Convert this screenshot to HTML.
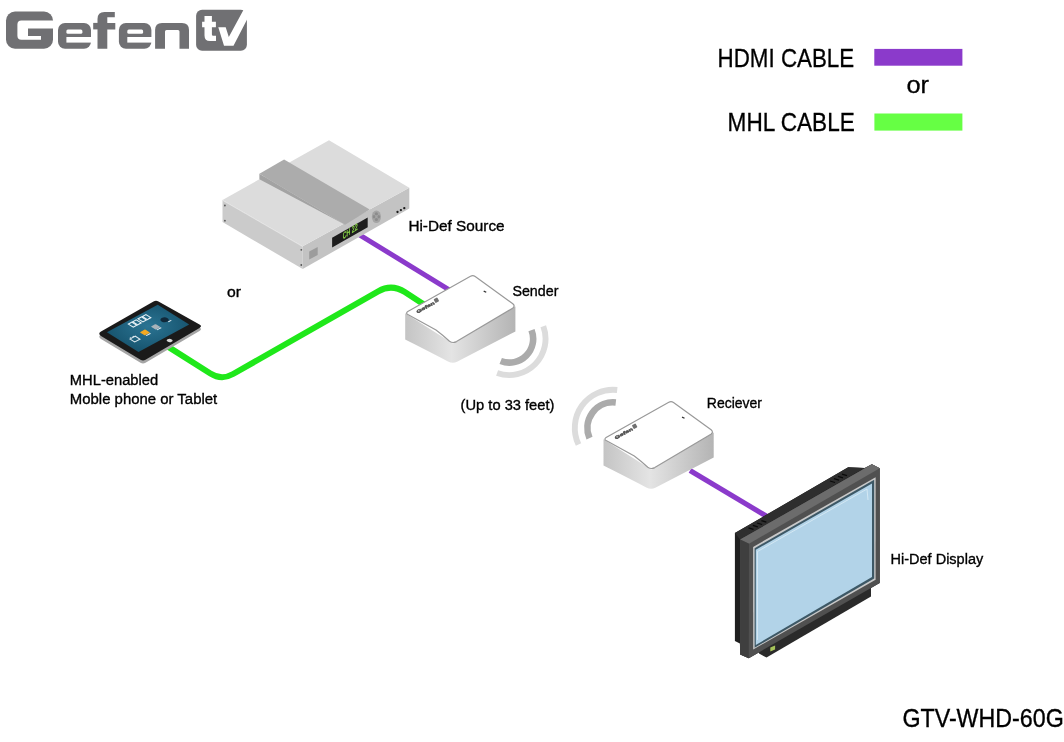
<!DOCTYPE html>
<html><head><meta charset="utf-8">
<style>
html,body{margin:0;padding:0;background:#fff;width:1064px;height:742px;overflow:hidden}
svg{display:block;will-change:transform}
text{font-family:"Liberation Sans",sans-serif;fill:#000}
.lb text{stroke:#000;stroke-width:0.35px}
.lg{stroke:#000;stroke-width:0.3px}
</style></head><body>
<svg width="1064" height="742" viewBox="0 0 1064 742">
<defs>
<linearGradient id="sideg" x1="0" y1="0" x2="1" y2="0">
<stop offset="0" stop-color="#c4c4c4"/><stop offset="0.42" stop-color="#e4e4e4"/><stop offset="1" stop-color="#b4b4b4"/>
</linearGradient>
<radialGradient id="tabscr" cx="0.5" cy="0.45" r="0.6">
<stop offset="0" stop-color="#2b7493"/><stop offset="1" stop-color="#14506a"/>
</radialGradient>
</defs>
<rect width="1064" height="742" fill="#fff"/>

<!-- LOGO -->
<g id="logo" fill="#707073">
<!-- G -->
<rect x="6" y="11.6" width="47" height="37.1" rx="9"/>
<path d="M17.4 24.5 Q17.4 20.5 21.4 20.5 H54 V28.5 H28 V36 H41 V39.8 H21.4 Q17.4 39.8 17.4 35.8 Z" fill="#fff"/>
<!-- e -->
<rect x="58" y="23" width="33" height="25.7" rx="7"/>
<rect x="66.4" y="29.6" width="16" height="4.1" rx="1.5" fill="#fff"/>
<rect x="66.4" y="37" width="26" height="5.6" fill="#fff"/>
<!-- f -->
<path d="M97.5 48.7 V19 Q97.5 12 104.5 12 H114.8 V17.2 H107.3 V22.9 H115.3 V29.4 H107.3 V48.7 Z"/>
<rect x="93.2" y="22.9" width="5" height="6.5"/>
<!-- e2 -->
<rect x="118.9" y="23" width="32.5" height="25.7" rx="7"/>
<rect x="127.3" y="29.6" width="15.8" height="4.1" rx="1.5" fill="#fff"/>
<rect x="127.3" y="37" width="25" height="5.6" fill="#fff"/>
<!-- n -->
<path d="M155.1 48.7 V30 Q155.1 22.9 162 22.9 H182 Q189 22.9 189 30 V48.7 H179.5 V31.5 Q179.5 29.9 178 29.9 H166.5 Q165 29.9 165 31.5 V48.7 Z"/>
<!-- tv box -->
<rect x="196.1" y="9.7" width="50.8" height="41.1" rx="6"/>
<g fill="#fff">
<path d="M204.5 16.1 H211.9 V21.8 H215.9 V27.2 H211.9 V34.5 Q211.9 35.8 213.2 35.8 H216 V41 H210 Q204.5 41 204.5 35.5 V27.2 H202.1 V21.8 H204.5 Z"/>
<path d="M218.3 27.2 H225.7 L228.8 37 L244.5 8 H253 L233.5 45.7 H224 Z"/>
</g>
</g>

<!-- LEGEND -->
<text class="lg" x="717.6" y="67.1" font-size="25.4" textLength="136.6" lengthAdjust="spacingAndGlyphs">HDMI CABLE</text>
<rect x="874.3" y="48.9" width="88.1" height="16.8" fill="#8b3acb"/>
<text class="lg" x="906.4" y="93.2" font-size="23.5" textLength="22.6" lengthAdjust="spacingAndGlyphs">or</text>
<text class="lg" x="727.6" y="131.1" font-size="25" textLength="127.2" lengthAdjust="spacingAndGlyphs">MHL CABLE</text>
<rect x="874.4" y="113.5" width="88" height="17.1" fill="#66ff44"/>

<!-- CABLES -->
<path d="M160 341.6 L210.4 373.5 Q221.6 380.6 233.1 374 L378.2 291.3 Q391.7 283.6 404.8 292.1 L432 309.8" fill="none" stroke="#1fe81a" stroke-width="6" stroke-linejoin="round"/>
<line x1="355" y1="232.1" x2="450" y2="290.3" stroke="#8b3acb" stroke-width="5"/>
<line x1="690" y1="470.5" x2="770" y2="518.3" stroke="#8b3acb" stroke-width="5.1"/>

<!-- SOURCE BOX -->
<g id="source">
<polygon points="222.5,200 302.7,246.3 302.7,269 222.5,222" fill="#cbcbcb"/>
<polygon points="302.7,246.3 409.3,187.8 409.3,208.5 302.7,269" fill="#c3c3c3"/>
<polygon points="222.5,200 329,140.3 409.3,187.8 302.7,246.3" fill="#dcdcdc"/>
<line x1="222.5" y1="200.3" x2="302.7" y2="246.6" stroke="#e6e6e6" stroke-width="0.8"/>
<polygon points="259.4,173.8 284.1,159.5 369.7,209.4 345.1,224.8" fill="#acacac"/>
<polygon points="259.4,173.8 345.1,224.8 259.4,179.3" fill="#a3a3a3"/>
<polygon points="332.1,237.7 367.7,217.5 367.7,227.2 332.1,247.4" fill="#1d1d1d"/>
<text x="0" y="0" font-size="9" style="fill:#8fe04a;stroke:#8fe04a;stroke-width:0.3px" transform="matrix(0.85,-0.56,0,1,342.8,239.2)" textLength="17.5" lengthAdjust="spacingAndGlyphs">CH 22</text>
<ellipse cx="376.4" cy="216.7" rx="4.6" ry="6.3" fill="#a4a4a4"/>
<g fill="#8c8c8c"><ellipse cx="376.4" cy="213.8" rx="1.6" ry="1.5"/><ellipse cx="376.4" cy="219.6" rx="1.6" ry="1.5"/><ellipse cx="374" cy="216.7" rx="1.3" ry="1.8"/><ellipse cx="378.8" cy="216.7" rx="1.3" ry="1.8"/></g>
<circle cx="397.5" cy="212" r="1.15" fill="#1a1a1a"/><circle cx="400.9" cy="210.1" r="1.15" fill="#1a1a1a"/><circle cx="404.3" cy="208.2" r="1.15" fill="#1a1a1a"/>
<polygon points="309.2,251.5 317.7,247 317.7,255 309.2,259.5" fill="#9c9c9c"/>
<circle cx="224.9" cy="205.5" r="0.9" fill="#555"/><circle cx="224.9" cy="220.7" r="0.9" fill="#555"/>
<circle cx="301.3" cy="249.8" r="0.9" fill="#555"/><circle cx="301.3" cy="265" r="0.9" fill="#555"/>
</g>

<!-- TABLET -->
<g id="tablet">
<path d="M101 334.6 L153.5 304.5 Q156 303 158.5 304.5 L199.5 327.5 Q202.5 329.2 199.5 331 L145.5 362.8 Q143 364.3 140.5 362.8 L101 339 Q97.5 336.8 101 334.6 Z" fill="#a5a5a5"/>
<path d="M101 331.6 L153.5 301.5 Q156 300 158.5 301.5 L199.5 324.5 Q202.5 326.2 199.5 328 L145.5 359.8 Q143 361.3 140.5 359.8 L101 336 Q97.5 333.8 101 331.6 Z" fill="#1a1a1a"/>
<polygon points="106.9,332.3 157.7,304.7 189.2,324.4 138.5,352" fill="url(#tabscr)"/>
<g transform="matrix(0.879,-0.478,0.848,0.530,106.9,332.3)">
<circle cx="30.2" cy="42.7" r="2.3" fill="#d8d8d8"/>
<g fill="none" stroke="#e6f0f5" stroke-width="1.2">
<rect x="21" y="3.5" width="4" height="5.8"/><rect x="26" y="3.5" width="4" height="5.8"/>
<rect x="32" y="3.5" width="4" height="5.8"/><rect x="37" y="3.5" width="4" height="5.8"/>
</g>
<circle cx="47.3" cy="19" r="3.4" fill="#11293a"/>
<rect x="47.5" y="22.6" width="3.4" height="1.1" fill="#e0e8ee"/>
<rect x="32.2" y="18.4" width="5.6" height="5.8" rx="0.8" fill="#a9b3ba"/>
<rect x="32.6" y="24.6" width="5" height="1" fill="#e6eef2"/>
<rect x="20" y="18" width="6" height="6" rx="0.8" fill="#f3a922"/>
<rect x="20.5" y="24.5" width="5" height="1" fill="#f0f0f0"/>
<path d="M7.5 19.5 h6 v5.5 h-6 z M9 18 v1.5 M12 18 v1.5" fill="none" stroke="#dce8ee" stroke-width="1.2"/>
</g>
</g>

<!-- SENDER -->
<g id="sender">
<path d="M405.2 313.2 L405.2 339.6 Q420 347 448 361.5 Q452.7 364 457 361.8 L515.4 331.4 L515.4 306.4 L452.9 343.4 Z" fill="url(#sideg)"/>
<path d="M407.8 311.6 L470.5 276.2 Q472.9 275 475.2 276.4 L512.8 303.8 Q515.6 306.2 512.6 308.2 L456.5 341.6 Q452.8 343.6 449.5 341.2 Q442 334.5 436 330 L408.3 314.8 Q405.2 313.4 407.8 311.6 Z" fill="#fff" stroke="#999" stroke-width="1.2"/>
<rect x="483.6" y="291" width="2.8" height="1.3" fill="#333" transform="rotate(25 485 291.6)"/>
<text x="0" y="0" font-size="5.6" font-weight="bold" style="fill:#505050;stroke:#505050;stroke-width:0.5px" transform="translate(417.5,313.5) rotate(-29) scale(1,0.8)" textLength="20" lengthAdjust="spacingAndGlyphs">Gefen</text>
<rect x="20.8" y="-4.6" width="4.2" height="4.4" rx="0.8" fill="#707070" transform="translate(417.5,313.5) rotate(-29)"/>
</g>
<path d="M531.5 330.1 A23.8 23.8 0 0 1 500.7 361.0" fill="none" stroke="#ababab" stroke-width="6.6"/>
<path d="M543.3 326.2 A36.3 36.3 0 0 1 497.1 373.0" fill="none" stroke="#dcdcdc" stroke-width="5.9"/>

<!-- RECEIVER -->
<g id="receiver" transform="translate(198.3,126)">
<path d="M405.2 313.2 L405.2 339.6 Q420 347 448 361.5 Q452.7 364 457 361.8 L515.4 331.4 L515.4 306.4 L452.9 343.4 Z" fill="url(#sideg)"/>
<path d="M407.8 311.6 L470.5 276.2 Q472.9 275 475.2 276.4 L512.8 303.8 Q515.6 306.2 512.6 308.2 L456.5 341.6 Q452.8 343.6 449.5 341.2 Q442 334.5 436 330 L408.3 314.8 Q405.2 313.4 407.8 311.6 Z" fill="#fff" stroke="#999" stroke-width="1.2"/>
<rect x="483.6" y="291" width="2.8" height="1.3" fill="#333" transform="rotate(25 485 291.6)"/>
<text x="0" y="0" font-size="5.6" font-weight="bold" style="fill:#505050;stroke:#505050;stroke-width:0.5px" transform="translate(417.5,313.5) rotate(-29) scale(1,0.8)" textLength="20" lengthAdjust="spacingAndGlyphs">Gefen</text>
<rect x="20.8" y="-4.6" width="4.2" height="4.4" rx="0.8" fill="#707070" transform="translate(417.5,313.5) rotate(-29)"/>
</g>
<path d="M615.8 402.5 A25.6 25.6 0 0 0 589.5 438.1" fill="none" stroke="#ababab" stroke-width="6.6"/>
<path d="M617.2 390.0 A38.2 38.2 0 0 0 578.5 444.4" fill="none" stroke="#dcdcdc" stroke-width="5.9"/>

<!-- DISPLAY -->
<g id="display">
<polygon points="734.9,533.1 848.2,467.2 864.5,468 871.9,464.3 879.7,468.3 879.7,583 748.8,658.2 740.2,654.5 739.9,643.4 734.9,641.1" fill="#1f1f1f"/>
<polygon points="848.2,467.2 864.5,468 740.1,539.6 734.9,533.1" fill="#2e2e2e"/>
<g stroke="#0a0a0a" stroke-width="1.3">
<line x1="748.5" y1="527.8" x2="753.5" y2="529.3"/><line x1="752.8" y1="525.4" x2="757.8" y2="526.9"/><line x1="757.1" y1="523" x2="762.1" y2="524.5"/><line x1="761.4" y1="520.6" x2="766.4" y2="522.1"/>
<line x1="830" y1="481" x2="835" y2="482.5"/><line x1="834" y1="478.7" x2="839" y2="480.2"/><line x1="838" y1="476.4" x2="843" y2="477.9"/><line x1="842" y1="474.1" x2="847" y2="475.6"/>
</g>
<polygon points="759,650 871,586 871,596.5 766.5,657.6 759,653.5" fill="#2a2a2a"/>
<polygon points="740.1,539.6 871.9,464.3 879.7,468.3 879.7,583 748.8,658.2 740.2,654.5" fill="#505050"/>
<polygon points="740.1,539.6 871.9,464.3 879.7,468.3 749,543.7" fill="#6c6c6c"/>
<polygon points="740.1,539.6 749,543.7 748.8,658.2 740.2,654.5" fill="#3f3f3f"/>
<polygon points="753.1,546.9 875.6,477.2 875.6,579.8 753.2,649.5" fill="#c9c9c9"/>
<polygon points="754.6,548.2 874.2,479.8 874.2,578.6 754.6,647.7" fill="#3d5866"/>
<polygon points="755.8,549.8 872,483.5 872,577 755.8,645" fill="#b2d3e8"/>
<polyline points="757.5,640 757.5,551.5 867,489 868,500" fill="none" stroke="#dcecf5" stroke-width="0.8"/>
<polygon points="770.3,647.5 775.1,645.5 775.1,649.5 770.3,651.5" fill="#a6c45a"/>
</g>

<!-- LABELS -->
<g class="lb">
<text x="408.4" y="230.9" font-size="15.4" textLength="96.2" lengthAdjust="spacingAndGlyphs">Hi-Def Source</text>
<text x="227" y="296.9" font-size="15.2" textLength="14" lengthAdjust="spacingAndGlyphs">or</text>
<text x="512.4" y="296.4" font-size="15.4" textLength="46" lengthAdjust="spacingAndGlyphs">Sender</text>
<text x="69.8" y="385" font-size="15.2" textLength="88.4" lengthAdjust="spacingAndGlyphs">MHL-enabled</text>
<text x="69.8" y="404.1" font-size="15.2" textLength="147.4" lengthAdjust="spacingAndGlyphs">Moble phone or Tablet</text>
<text x="460.6" y="409.9" font-size="14.6" textLength="93.8" lengthAdjust="spacingAndGlyphs">(Up to 33 feet)</text>
<text x="706.8" y="408.4" font-size="15.4" textLength="55.2" lengthAdjust="spacingAndGlyphs">Reciever</text>
<text x="890.6" y="564.2" font-size="15.4" textLength="92.6" lengthAdjust="spacingAndGlyphs">Hi-Def Display</text>
<text x="902.4" y="726.7" font-size="25.4" textLength="161.4" lengthAdjust="spacingAndGlyphs">GTV-WHD-60G</text>
</g>
</svg>
</body></html>
